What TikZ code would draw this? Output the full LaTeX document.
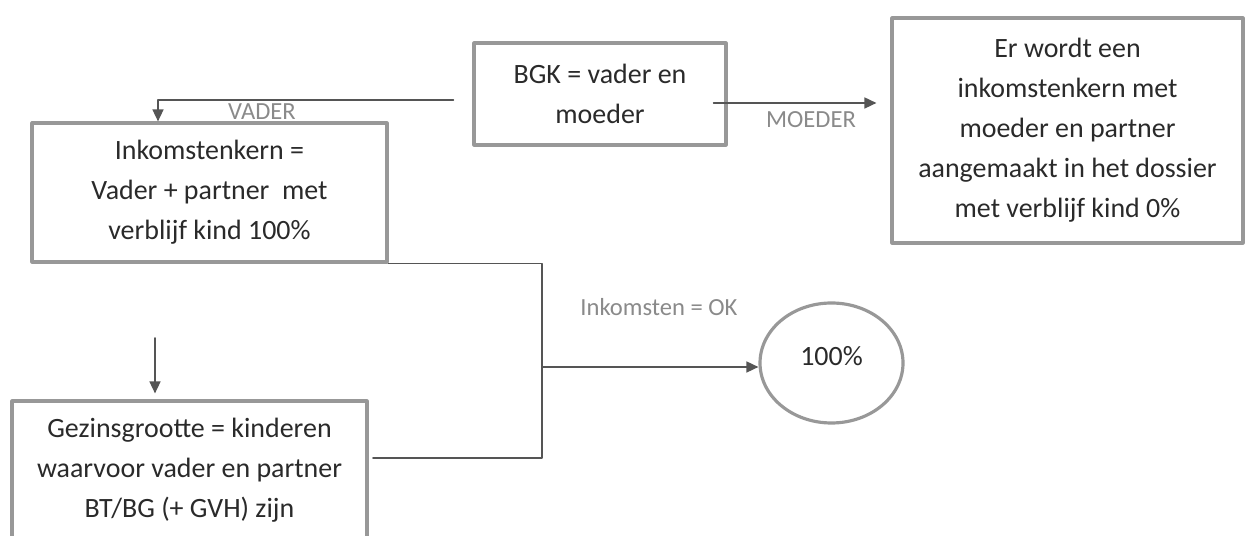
\documentclass[tikz,border=0pt]{standalone}
\usepackage{fontspec}
\setmainfont{Carlito}
\usetikzlibrary{arrows.meta,shapes.geometric}
\definecolor{kader}{HTML}{989898}
\definecolor{lijn}{HTML}{555555}
\definecolor{tekst}{HTML}{2A2A2A}
\definecolor{grijs}{HTML}{8A8A8A}
\begin{document}
\begin{tikzpicture}[line cap=round,line join=round,>={Triangle[length=2.4mm,width=2.2mm]},x=1cm,y=1cm,
  vak/.style={draw=kader,line width=1.8pt,fill=white,align=center,text=tekst,font=\fontsize{15.9}{22.8}\selectfont,inner sep=0pt},
  pijl/.style={->,draw=lijn,line width=0.9pt},
  lijnstuk/.style={draw=lijn,line width=0.9pt},
  tag/.style={text=grijs,font=\fontsize{14}{16}\selectfont}]
\useasboundingbox (0,0) rectangle (24.92,10.72);
\node[vak,minimum width=5.04cm,minimum height=2.04cm] (bgk) at (12.0,8.84) {BGK = vader en\\moeder};
\node[vak,minimum width=7.02cm,minimum height=4.5cm] (res) at (21.35,8.11) {Er wordt een\\inkomstenkern met\\moeder en partner\\aangemaakt in het dossier\\met verblijf kind 0\%};
\node[vak,minimum width=7.1cm,minimum height=2.78cm] (kern) at (4.19,6.87) {Inkomstenkern =\\Vader + partner\ \ met\\verblijf kind 100\%};
\node[vak,minimum width=7.1cm,minimum height=2.78cm] (gezin) at (3.79,1.31) {Gezinsgrootte = kinderen\\waarvoor vader en partner\\BT/BG (+ GVH) zijn};
\node[vak,ellipse,minimum width=2.86cm,minimum height=2.4cm] (uitkomst) at (16.63,3.46) {\raisebox{0.28cm}{100\%}};
\coordinate (knik) at (10.84,3.38);
\coordinate (onder) at (7.46,1.56);
\coordinate (los) at (3.1,3.96);
\draw[pijl] ([shift={(-0.38,-0.12)}]bgk.west) -| ([xshift=-1.03cm]kern.north);
\draw[pijl] ([shift={(-0.28,-0.18)}]bgk.east) -- ([shift={(-0.28,-0.18)}]bgk.east -| res.west);
\draw[lijnstuk] (kern.south east) -| (knik) |- (onder);
\draw[pijl] (knik) -- (knik -| uitkomst.west);
\draw[pijl] (los) -- ([shift={(-0.69,0.12)}]gezin.north);
\node[tag] (vader) at (5.24,8.48) {VADER};
\node[tag] (moeder) at (16.22,8.32) {MOEDER};
\node[tag] (ok) at (13.18,4.58) {Inkomsten = OK};
\end{tikzpicture}
\end{document}
